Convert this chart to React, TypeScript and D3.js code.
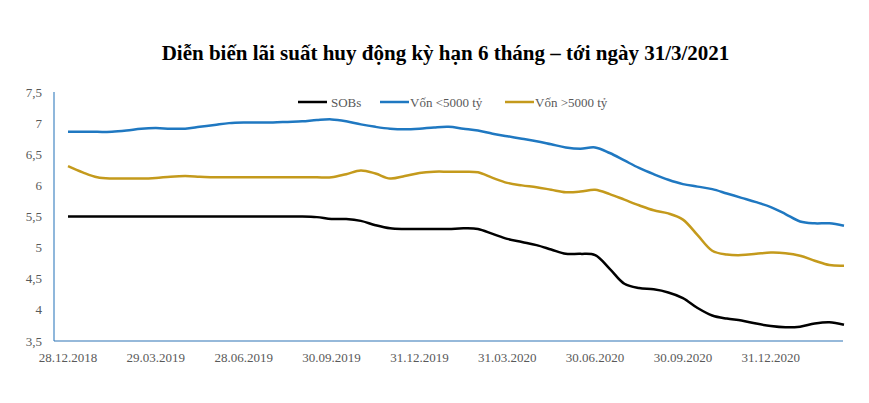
import React from "react";
import * as d3 from "d3";

const title = "Diễn biến lãi suất huy động kỳ hạn 6 tháng – tới ngày 31/3/2021";
const seriesNames = ["SOBs", "Vốn <5000 tỷ", "Vốn >5000 tỷ"];
const seriesColors = ["#000000", "#1f78c1", "#c49a1c"];
const xLabels = ["28.12.2018", "29.03.2019", "28.06.2019", "30.09.2019", "31.12.2019", "31.03.2020", "30.06.2020", "30.09.2020", "31.12.2020"];
const labelEvery = 6;
const yTicks = [3.5, 4, 4.5, 5, 5.5, 6, 6.5, 7, 7.5];

const sobs = [
  5.5, 5.5, 5.5, 5.5, 5.5, 5.5, 5.5, 5.5, 5.5, 5.5,
  5.5, 5.5, 5.5, 5.5, 5.5, 5.5, 5.5, 5.49, 5.46, 5.46,
  5.43, 5.36, 5.31, 5.3, 5.3, 5.3, 5.3, 5.31, 5.3, 5.22,
  5.14, 5.09, 5.04, 4.97, 4.9, 4.9, 4.88, 4.66, 4.42, 4.35,
  4.33, 4.28, 4.19, 4.03, 3.91, 3.86, 3.83, 3.78, 3.74, 3.72,
  3.73, 3.78, 3.8, 3.76,
];
const small = [
  6.86, 6.86, 6.86, 6.86, 6.88, 6.91, 6.92, 6.91, 6.91, 6.94,
  6.97, 7.0, 7.01, 7.01, 7.01, 7.02, 7.03, 7.05, 7.06, 7.03,
  6.98, 6.94, 6.91, 6.9, 6.91, 6.93, 6.94, 6.91, 6.88, 6.83,
  6.79, 6.75, 6.71, 6.66, 6.61, 6.59, 6.61, 6.52, 6.4, 6.28,
  6.18, 6.09, 6.02, 5.98, 5.94, 5.87, 5.8, 5.73, 5.65, 5.54,
  5.42, 5.39, 5.39, 5.35,
];
const large = [
  6.31, 6.21, 6.13, 6.11, 6.11, 6.11, 6.12, 6.14, 6.15, 6.14,
  6.13, 6.13, 6.13, 6.13, 6.13, 6.13, 6.13, 6.13, 6.13, 6.18,
  6.24, 6.19, 6.11, 6.15, 6.2, 6.22, 6.22, 6.22, 6.21, 6.12,
  6.04, 6.0, 5.97, 5.93, 5.89, 5.9, 5.93, 5.86, 5.77, 5.68,
  5.6, 5.55, 5.45, 5.2, 4.95, 4.89, 4.88, 4.9, 4.92, 4.91,
  4.87, 4.79, 4.72, 4.71,
];

const W = 869;
const H = 403;
const axisLeft = 54;
const axisRight = 843;
const x0 = 68;
const x1 = 844;
const yTop = 92;
const yBottom = 341;

export default function App() {
  const series = [sobs, small, large];
  const n = sobs.length;
  const x = d3.scaleLinear().domain([0, n - 1]).range([x0, x1]);
  const y = d3.scaleLinear().domain([3.5, 7.5]).range([yBottom, yTop]);
  const line = d3
    .line<number>()
    .x((_, i) => x(i))
    .y((d) => y(d))
    .curve(d3.curveCatmullRom.alpha(0.5));

  const legendItems = [
    { lx: 298, tx: 331 },
    { lx: 380, tx: 410 },
    { lx: 505, tx: 535 },
  ];

  return (
    <svg
      width={W}
      height={H}
      style={{ position: "absolute", left: 0, top: 0, background: "#fff" }}
      fontFamily="'Liberation Serif', 'Times New Roman', serif"
    >
      <text x={445.5} y={60} textAnchor="middle" fontSize={21} fontWeight="bold" fill="#000">
        {title}
      </text>

      {/* axes */}
      <line x1={axisLeft} x2={axisLeft} y1={yTop} y2={yBottom} stroke="#6a9fcf" strokeWidth={1.5} />
      <line x1={axisLeft} x2={axisRight} y1={yBottom} y2={yBottom} stroke="#2e75b6" strokeWidth={1.2} />

      {yTicks.map((t) => (
        <text key={t} x={42} y={y(t)} dy="0.35em" textAnchor="end" fontSize={13} fill="#595959">
          {String(t).replace(".", ",")}
        </text>
      ))}

      {xLabels.map((lab, k) => (
        <text key={lab} x={x(k * labelEvery)} y={362} textAnchor="middle" fontSize={13} fill="#595959">
          {lab}
        </text>
      ))}

      {series.map((s, si) => (
        <path key={si} d={line(s) || ""} fill="none" stroke={seriesColors[si]} strokeWidth={2.5} strokeLinejoin="round" />
      ))}

      {seriesNames.map((name, si) => (
        <g key={name}>
          <line x1={legendItems[si].lx} x2={legendItems[si].lx + 29} y1={102} y2={102} stroke={seriesColors[si]} strokeWidth={2.5} />
          <text x={legendItems[si].tx} y={102} dy="0.35em" fontSize={13} fill="#595959">
            {name}
          </text>
        </g>
      ))}
    </svg>
  );
}
